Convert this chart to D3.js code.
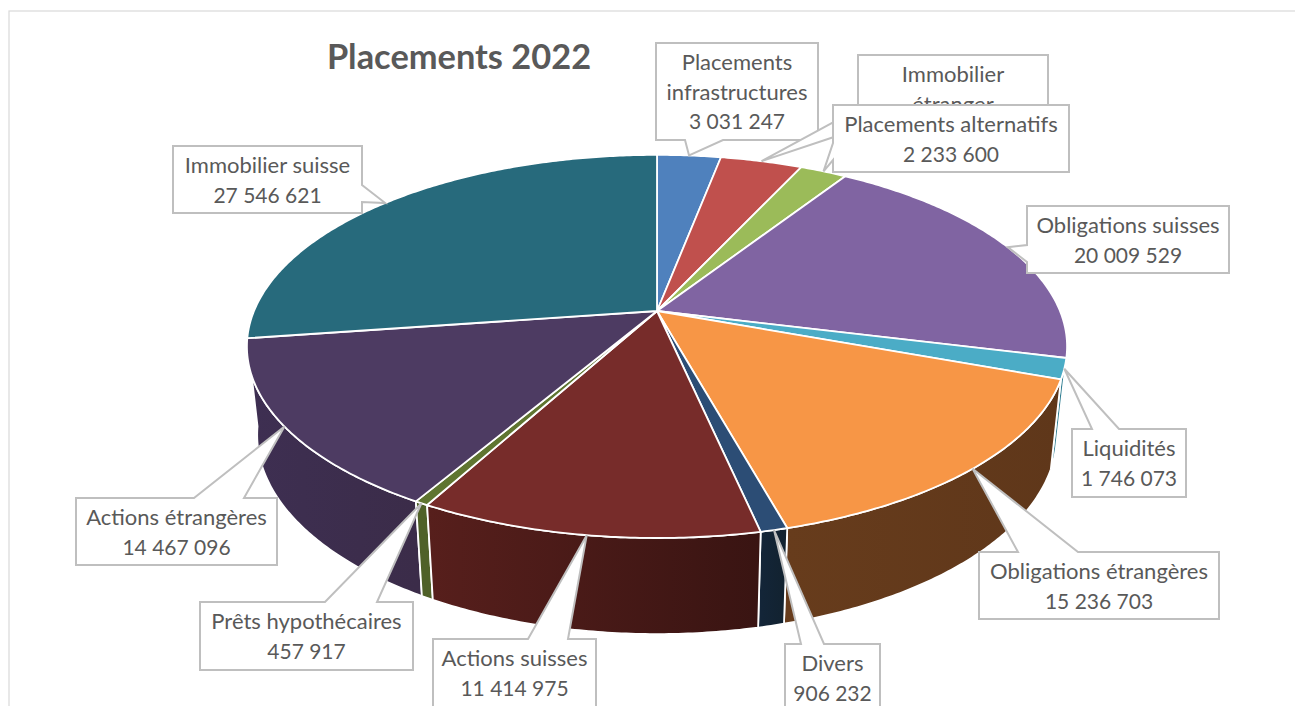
<!DOCTYPE html>
<html>
<head>
<meta charset="utf-8">
<title>Placements 2022</title>
<script src="https://cdn.jsdelivr.net/npm/d3@7"></script>
<style>
  html, body { margin: 0; padding: 0; background: #fff; overflow: hidden; }
  text { font-family: Lato, "Open Sans", sans-serif; fill: #595959; }
</style>
</head>
<body>
<div id="chart"></div>
<script>
// values read from the labels, Immobilier étranger is hidden so it is estimated from its slice
var categories = ["Placements infrastructures", "Immobilier étranger", "Placements alternatifs",
    "Obligations suisses", "Liquidités", "Obligations étrangères", "Divers", "Actions suisses",
    "Prêts hypothécaires", "Actions étrangères", "Immobilier suisse"];
var values = [3031247, 3900000, 2233600, 20009529, 1746073, 15236703, 906232, 11414975, 457917, 14467096, 27546621];
var labelLines = [["Placements", "infrastructures"], ["Immobilier", "étranger"], ["Placements alternatifs"],
    ["Obligations suisses"], ["Liquidités"], ["Obligations étrangères"], ["Divers"], ["Actions suisses"],
    ["Prêts hypothécaires"], ["Actions étrangères"], ["Immobilier suisse"]];
var topColors = ["#4f81bd", "#c0504d", "#9bbb59", "#8064a2", "#4bacc6", "#f79646", "#2c4d75", "#772c2a", "#5f7530", "#4d3b62", "#276a7c"];
var wallLeft = ["#2a4a6f", "#702d2b", "#5a6f33", "#4b3a60", "#2f7d91", "#673c1c", "#132538", "#571f1c", "#4f6128", "#3e2f52", "#1d4f5c"];
var wallRight = ["#2a4a6f", "#702d2b", "#5a6f33", "#4b3a60", "#2f7d91", "#5f371a", "#12222f", "#391412", "#4f6128", "#3b2c49", "#1d4f5c"];

// callout boxes, in category order: box, then the two base points of the pointer
var boxes = [
    {x: 656, y: 43, w: 162, h: 97, side: "bottom", a: 685, b: 723},
    {x: 858, y: 55, w: 190, h: 97, side: "left", a: 109, b: 129},
    {x: 833, y: 105, w: 236, h: 67, side: "left", a: 143, b: 160},
    {x: 1027, y: 206, w: 202, h: 67, side: "left", a: 245, b: 262},
    {x: 1072, y: 429, w: 114, h: 68, side: "top", a: 1092, b: 1119},
    {x: 979, y: 552, w: 240, h: 67, side: "top", a: 1018, b: 1078},
    {x: 785, y: 644, w: 95, h: 67, side: "top", a: 801, b: 824},
    {x: 433, y: 639, w: 163, h: 70, side: "top", a: 528, b: 568},
    {x: 200, y: 602, w: 213, h: 68, side: "top", a: 325, b: 377},
    {x: 76, y: 498, w: 201, h: 67, side: "top", a: 194, b: 244},
    {x: 173, y: 146, w: 189, h: 67, side: "right", a: 185, b: 202}
];

var width = 1295, height = 706;
var cx = 657, cy = 311;
var rx = 403, ry = 185, persp = 0.185;
var wallScaleX = 0.975, wallScaleY = 1.04, wallDrop = 87;

var svg = d3.select("#chart")
    .append("svg")
        .attr("width", width)
        .attr("height", height)
        .style("display", "block");

var defs = svg.append("defs");

// chart frame, right and bottom run off the page
svg.append("rect")
    .attr("x", 9)
    .attr("y", 11)
    .attr("width", width + 20)
    .attr("height", height + 20)
    .attr("fill", "none")
    .attr("stroke", "#d9d9d9")
    .attr("stroke-width", 1.2);

svg.append("text")
    .attr("x", 459)
    .attr("y", 69)
    .attr("text-anchor", "middle")
    .attr("font-size", 34.4)
    .attr("font-weight", 700)
    .text("Placements 2022");

var pie = d3.pie().sort(null);
var arcs = pie(values);

// rim of the tilted disc, the projection makes the front larger than the back
var project = function(angle) {
    var a = Math.sin(angle), b = -Math.cos(angle);
    var w = 1 - persp * b;
    return [rx * a / w, ry * b / w];
};
var rimTop = function(angle) {
    var p = project(angle);
    return [cx + p[0], cy + p[1]];
};
var rimBottom = function(angle) {
    var p = project(angle);
    return [cx + p[0] * wallScaleX, cy + p[1] * wallScaleY + wallDrop];
};
var rimAngles = function(d) {
    var n = Math.max(2, Math.ceil((d.endAngle - d.startAngle) / 0.01));
    return d3.range(n + 1).map(function(i) { return d.startAngle + (d.endAngle - d.startAngle) * i / n; });
};
var line = d3.line();

var wallOf = function(d) {
    var angles = rimAngles(d);
    return line(angles.map(rimTop).concat(angles.slice().reverse().map(rimBottom))) + "Z";
};
var topOf = function(d) {
    return line([[cx, cy]].concat(rimAngles(d).map(rimTop))) + "Z";
};

arcs.forEach(function(d, i) {
    var xs = rimAngles(d).map(function(t) { return rimTop(t)[0]; });
    var grad = defs.append("linearGradient")
        .attr("id", "wall" + i)
        .attr("gradientUnits", "userSpaceOnUse")
        .attr("x1", d3.min(xs)).attr("x2", d3.max(xs))
        .attr("y1", 0).attr("y2", 0);
    grad.append("stop").attr("offset", 0).attr("stop-color", wallLeft[i]);
    grad.append("stop").attr("offset", 1).attr("stop-color", wallRight[i]);
});

// back to front so the front walls end up on top
var depthOrder = arcs.map(function(d, i) { return i; })
    .sort(function(p, q) {
        return -Math.cos((arcs[p].startAngle + arcs[p].endAngle) / 2) + Math.cos((arcs[q].startAngle + arcs[q].endAngle) / 2);
    });

svg.append("g").selectAll("path")
    .data(depthOrder)
    .enter()
    .append("path")
        .attr("d", function(i) { return wallOf(arcs[i]); })
        .attr("fill", function(i) { return "url(#wall" + i + ")"; })
        .attr("stroke", "#fff")
        .attr("stroke-width", 1.8)
        .attr("stroke-linejoin", "round");

svg.append("g").selectAll("path")
    .data(arcs)
    .enter()
    .append("path")
        .attr("d", topOf)
        .attr("fill", function(d, i) { return topColors[i]; })
        .attr("stroke", "#fff")
        .attr("stroke-width", 1.8)
        .attr("stroke-linejoin", "round");

var spaced = d3.formatLocale({decimal: ",", thousands: " ", grouping: [3], currency: ["", ""]}).format(",d");

var calloutPath = function(box, tip) {
    var x0 = box.x, x1 = box.x + box.w, y0 = box.y, y1 = box.y + box.h;
    var pts;
    if (box.side == "top") {
        pts = [[x0, y0], [box.a, y0], tip, [box.b, y0], [x1, y0], [x1, y1], [x0, y1]];
    } else if (box.side == "bottom") {
        pts = [[x0, y0], [x1, y0], [x1, y1], [box.b, y1], tip, [box.a, y1], [x0, y1]];
    } else if (box.side == "left") {
        pts = [[x0, y0], [x1, y0], [x1, y1], [x0, y1], [x0, box.b], tip, [x0, box.a]];
    } else {
        pts = [[x0, y0], [x1, y0], [x1, box.a], tip, [x1, box.b], [x1, y1], [x0, y1]];
    }
    return line(pts) + "Z";
};

var callouts = svg.append("g").selectAll("g")
    .data(arcs)
    .enter()
    .append("g");

callouts.append("path")
    .attr("d", function(d, i) { return calloutPath(boxes[i], rimTop((d.startAngle + d.endAngle) / 2)); })
    .attr("fill", "#fff")
    .attr("stroke", "#bfbfbf")
    .attr("stroke-width", 2)
    .attr("stroke-linejoin", "miter");

callouts.each(function(d, i) {
    var names = labelLines[i];
    var lines = names.concat([spaced(values[i])]);
    d3.select(this).selectAll("text")
        .data(lines)
        .enter()
        .append("text")
            .attr("x", boxes[i].x + boxes[i].w / 2)
            .attr("y", function(t, j) { return boxes[i].y + 27 + j * 29.5; })
            .attr("text-anchor", "middle")
            .attr("font-size", function(t, j) { return j < names.length ? 22 : 21; })
            .text(function(t) { return t; });
});
</script>
</body>
</html>
